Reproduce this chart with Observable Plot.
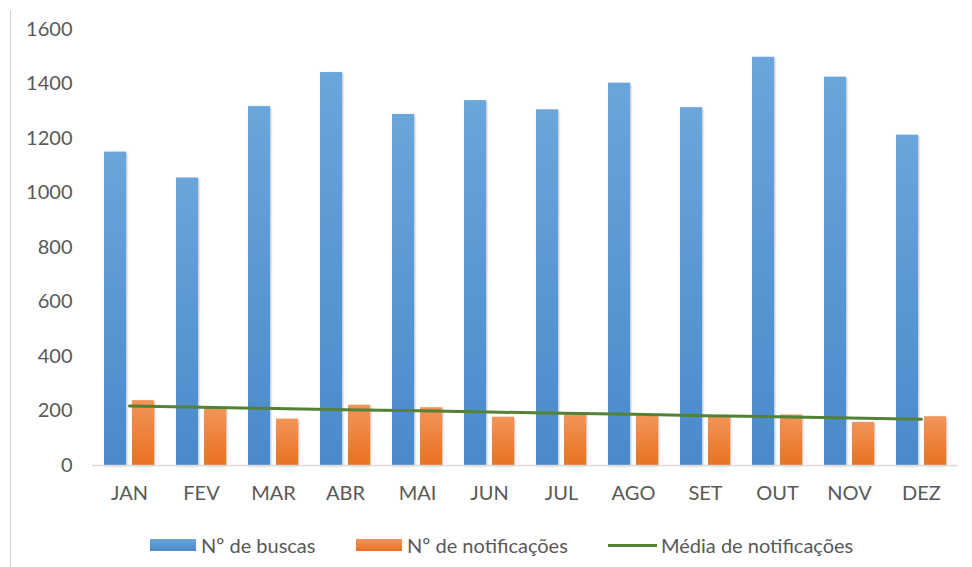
<!DOCTYPE html>
<html>
<head>
<meta charset="utf-8">
<script src="https://cdn.jsdelivr.net/npm/d3@7"></script>
<script src="https://cdn.jsdelivr.net/npm/@observablehq/plot@0.6"></script>
<style>
  html, body { margin: 0; padding: 0; background: #fff; }
  #wrap { position: relative; width: 972px; height: 567px; overflow: hidden; font-family: Lato, "Open Sans", sans-serif; }
  #frame { position: absolute; left: 10px; top: 10px; bottom: 0; width: 0; border-left: 1.5px solid #d4d4d4; }
  #legend { position: absolute; left: 0; top: 531px; width: 972px; height: 28px; font-size: 20px; color: #595959; white-space: nowrap; }
  .item { position: absolute; top: 0; height: 28px; display: flex; align-items: center; }
  .sw { width: 46px; height: 12px; margin-right: 5px; }
  .ln { width: 49px; height: 3px; background: #548235; margin-right: 4px; }
  .chart g[aria-label="bar"] { filter: drop-shadow(1px 1px 1.2px rgba(0,0,0,0.28)); }
</style>
</head>
<body>
<div id="wrap">
  <div id="frame"></div>
  <div id="chart"></div>
  <div id="legend"></div>
</div>
<script>
// Monthly searches, notifications and the average-notifications trend
const months = ["JAN", "FEV", "MAR", "ABR", "MAI", "JUN", "JUL", "AGO", "SET", "OUT", "NOV", "DEZ"];
const buscas = [1150, 1055, 1317, 1442, 1288, 1339, 1305, 1403, 1313, 1498, 1425, 1212];
const notificacoes = [238, 212, 170, 221, 212, 177, 187, 182, 180, 185, 158, 179];
const mediaNotificacoes = [218, 214, 209, 205, 201, 196, 192, 188, 183, 179, 174, 170];
const yTicks = [0, 200, 400, 600, 800, 1000, 1200, 1400, 1600];

const seriesNames = ["Nº de buscas", "Nº de notificações", "Média de notificações"];
const colors = { blue: "#5b9bd5", orange: "#ed7d31", green: "#548235" };

const rowsBuscas = months.map((m, i) => ({ month: m, value: buscas[i] }));
const rowsNotif = months.map((m, i) => ({ month: m, value: notificacoes[i] }));
const rowsMedia = months.map((m, i) => ({ month: m, value: mediaNotificacoes[i] }));

const plot = Plot.plot({
  width: 972,
  height: 520,
  marginLeft: 92,
  marginRight: 14,
  marginTop: 29,
  marginBottom: 55,
  className: "chart",
  style: { fontFamily: "Lato, 'Open Sans', sans-serif", fontSize: "20px", color: "#595959", background: "transparent" },
  x: { domain: months, padding: 0, label: null },
  y: { domain: [0, 1600], label: null },
  marks: [
    Plot.axisY({ ticks: yTicks, tickSize: 0, tickPadding: 20, tickFormat: d => String(d), fill: "#595959", label: null }),
    Plot.axisX({ tickSize: 0, tickPadding: 20, fill: "#595959", label: null }),
    Plot.barY(rowsBuscas, { x: "month", y: "value", fill: "url(#gradBlue)", insetLeft: 11, insetRight: 39 }),
    Plot.barY(rowsNotif, { x: "month", y: "value", fill: "url(#gradOrange)", insetLeft: 39, insetRight: 11 }),
    Plot.ruleY([0], { stroke: "#d9d9d9", strokeWidth: 1.5 }),
    Plot.line(rowsMedia, { x: "month", y: "value", stroke: colors.green, strokeWidth: 3 })
  ]
});

// Soft vertical gradients for the bar fills
const defs = d3.select(plot).insert("defs", ":first-child");
function grad(id, top, bottom) {
  const g = defs.append("linearGradient").attr("id", id).attr("x1", 0).attr("y1", 0).attr("x2", 0).attr("y2", 1).attr("gradientUnits", "objectBoundingBox");
  g.append("stop").attr("offset", "0%").attr("stop-color", top);
  g.append("stop").attr("offset", "100%").attr("stop-color", bottom);
}
grad("gradBlue", "#6aa5db", "#4a8acb");
grad("gradOrange", "#f2955a", "#e8711f");

document.getElementById("chart").appendChild(plot);

// Legend below the chart
const legend = d3.select("#legend");
const it1 = legend.append("div").attr("class", "item").style("left", "150px");
it1.append("div").attr("class", "sw").style("background", "linear-gradient(#6aa5db,#4a8acb)");
it1.append("span").text(seriesNames[0]);
const it2 = legend.append("div").attr("class", "item").style("left", "356px");
it2.append("div").attr("class", "sw").style("background", "linear-gradient(#f2955a,#e8711f)");
it2.append("span").text(seriesNames[1]);
const it3 = legend.append("div").attr("class", "item").style("left", "608px");
it3.append("div").attr("class", "ln");
it3.append("span").text(seriesNames[2]);
</script>
</body>
</html>
